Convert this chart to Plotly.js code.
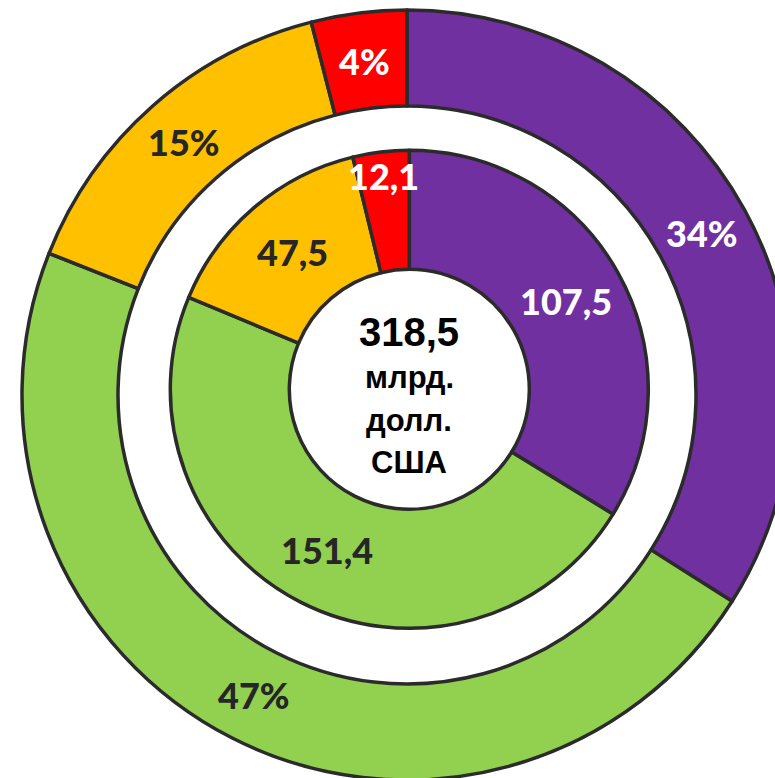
<!DOCTYPE html>
<html>
<head>
<meta charset="utf-8">
<script src="https://cdn.plot.ly/plotly-3.0.1.min.js"></script>
<style>
  html, body { margin: 0; padding: 0; overflow: hidden; background: #ffffff; }
  #chart { width: 820px; height: 800px; }
</style>
</head>
<body>
<div id="chart"></div>
<script>
// ---- data ----
const categories = ['Сегмент 1', 'Сегмент 2', 'Сегмент 3', 'Сегмент 4'];
const innerValues = [107.5, 151.4, 47.5, 12.1];   // млрд. долл. США
const outerPercents = [34, 47, 15, 4];             // %
const totalLabel = '318,5';
const unitLines = ['млрд.', 'долл.', 'США'];

// ---- styles ----
const colors = ['#7030A0', '#92D050', '#FFC000', '#FF0000'];
const labelColors = ['#ffffff', '#262626', '#262626', '#ffffff'];
const lineColor = '#2b2b2b';
const W = 820, H = 800;

// geometry (pixels)
const outerC = {x: 407, y: 395}, outerR = 385, outerHoleR = 289;
const innerC = {x: 409.3, y: 389.3}, innerR = 239, innerHoleR = 120;
const innerLabelR = [180, 180, 180, 215];
const outerLabelR = [337, 337, 337, 337];

function domainFor(c, r) {
  return {x: [(c.x - r) / W, (c.x + r) / W], y: [1 - (c.y + r) / H, 1 - (c.y - r) / H]};
}

const fmt = v => v.toFixed(1).replace('.', ',');

const traces = [
  {
    type: 'pie', labels: categories, values: outerPercents, sort: false,
    direction: 'clockwise', rotation: 0, hole: outerHoleR / outerR,
    domain: domainFor(outerC, outerR), textinfo: 'none', hoverinfo: 'label+percent',
    marker: {colors: colors, line: {color: lineColor, width: 3.5}}, showlegend: false
  },
  {
    type: 'pie', labels: categories, values: innerValues, sort: false,
    direction: 'clockwise', rotation: 0, hole: innerHoleR / innerR,
    domain: domainFor(innerC, innerR), textinfo: 'none', hoverinfo: 'label+value',
    marker: {colors: colors, line: {color: lineColor, width: 3.5}}, showlegend: false
  }
];

function ringLabels(values, texts, c, radii) {
  const total = values.reduce((a, b) => a + b, 0);
  let cum = 0;
  return values.map((v, i) => {
    const th = 2 * Math.PI * (cum + v / 2) / total;
    cum += v;
    const px = c.x + radii[i] * Math.sin(th);
    const py = c.y - radii[i] * Math.cos(th);
    return {
      x: px / W, y: 1 - py / H, xref: 'paper', yref: 'paper',
      xanchor: 'center', yanchor: 'middle', showarrow: false,
      text: texts[i],
      font: {family: 'Lato, DejaVu Sans, sans-serif', size: 36, weight: 900, color: labelColors[i]}
    };
  });
}

const centerFont = 'Liberation Sans, Arial, sans-serif';
const annotations = [
  ...ringLabels(outerPercents, outerPercents.map(v => v + '%'), outerC, outerLabelR),
  ...ringLabels(innerValues, innerValues.map(fmt), innerC, innerLabelR),
  {
    x: innerC.x / W, y: 1 - 332 / H, xref: 'paper', yref: 'paper', showarrow: false,
    xanchor: 'center', yanchor: 'middle', text: '<b>' + totalLabel + '</b>',
    font: {family: centerFont, size: 40, color: '#000000'}
  },
  ...unitLines.map((t, i) => ({
    x: innerC.x / W, y: 1 - (378 + i * 42) / H, xref: 'paper', yref: 'paper', showarrow: false,
    xanchor: 'center', yanchor: 'middle', text: '<b>' + t + '</b>',
    font: {family: centerFont, size: 31, color: '#000000'}
  }))
];

const layout = {
  width: W, height: H,
  margin: {l: 0, r: 0, t: 0, b: 0, pad: 0},
  paper_bgcolor: '#ffffff', plot_bgcolor: '#ffffff',
  showlegend: false,
  annotations: annotations
};

Plotly.newPlot('chart', traces, layout, {displayModeBar: false, staticPlot: true});
</script>
</body>
</html>
